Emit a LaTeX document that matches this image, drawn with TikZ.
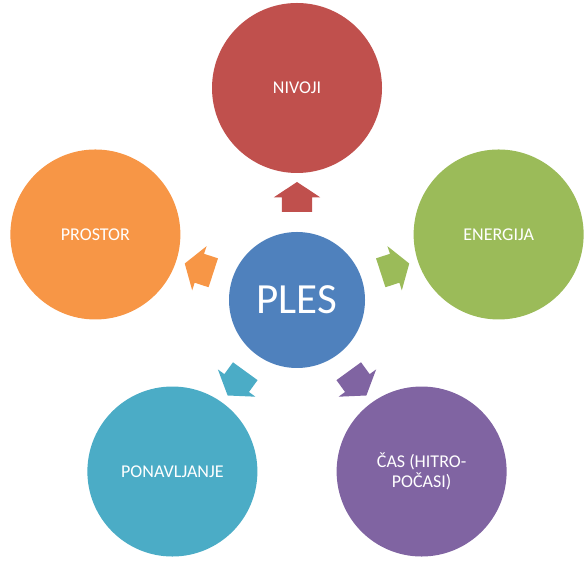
\documentclass[tikz,border=0pt]{standalone}
\usepackage{fontspec}
\setmainfont{Carlito}
\usepackage{tikz}
\usetikzlibrary{shapes.arrows, positioning}
\usepackage{xcolor}
\definecolor{plesblue}{HTML}{4F81BD}
\definecolor{nivred}{HTML}{C0504D}
\definecolor{enggreen}{HTML}{9BBB59}
\definecolor{caspurple}{HTML}{8064A2}
\definecolor{ponaqua}{HTML}{4BACC6}
\definecolor{prosorange}{HTML}{F79646}

\begin{document}
\begin{tikzpicture}[
    x=1pt, y=1pt,
    every node/.style={font=\fontsize{18}{20}\selectfont, text=white},
    hub/.style={circle, minimum size=136pt, inner sep=0pt, fill=plesblue, font=\fontsize{43}{46}\selectfont},
    bubble/.style={circle, minimum size=170pt, inner sep=0pt, align=center},
    blockarrow/.style={single arrow, minimum height=30pt, minimum width=46pt, inner xsep=0pt, inner ysep=15pt, single arrow head extend=8pt, single arrow tip angle=113}
]
\useasboundingbox (0,0) rectangle (585,561);

\node (ples) [hub] at (297,261) {PLES};

\node (nivoji) [bubble, fill=nivred] at ([shift={(90:212)}]ples.center) {NIVOJI};
\node (energija) [bubble, fill=enggreen] at ([shift={(18:212)}]ples.center) {ENERGIJA};
\node (cas) [bubble, fill=caspurple] at ([shift={(-54:212)}]ples.center) {ČAS (HITRO-\\POČASI)};
\node (ponavljanje) [bubble, fill=ponaqua] at ([shift={(-126:212)}]ples.center) {PONAVLJANJE};
\node (prostor) [bubble, fill=prosorange] at ([shift={(162:212)}]ples.center) {PROSTOR};

% puscice med srediscem in krogi
\node (a1) [blockarrow, fill=nivred, rotate=90] at ([shift={(90:98)}]ples.center) {};
\node (a2) [blockarrow, fill=enggreen, rotate=18] at ([shift={(18:98)}]ples.center) {};
\node (a3) [blockarrow, fill=caspurple, rotate=-54] at ([shift={(-54:98)}]ples.center) {};
\node (a4) [blockarrow, fill=ponaqua, rotate=-126] at ([shift={(-126:98)}]ples.center) {};
\node (a5) [blockarrow, fill=prosorange, rotate=162] at ([shift={(162:98)}]ples.center) {};
\end{tikzpicture}
\end{document}
